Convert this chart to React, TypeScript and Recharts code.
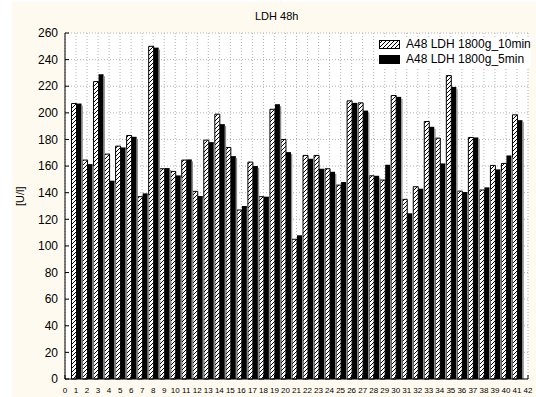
import React from 'react';
import {BarChart, Bar, XAxis, YAxis, CartesianGrid} from 'recharts';

// sample numbers 1..41
const samples = [1, 2, 3, 4, 5, 6, 7, 8, 9, 10, 11, 12, 13, 14, 15, 16, 17, 18, 19, 20,
    21, 22, 23, 24, 25, 26, 27, 28, 29, 30, 31, 32, 33, 34, 35, 36, 37, 38, 39, 40, 41];

const ldh10min = [207, 164.5, 223.5, 169, 175, 183, 137, 250, 158, 156, 164.5, 141, 179.5, 199,
    174, 127, 163, 137, 202.7, 180, 105, 168, 168, 158, 145.7, 209, 207.5, 152.7, 149.5, 213,
    135, 144.5, 193.5, 181, 228, 141.2, 181.5, 142, 160.5, 162, 198.5];

const ldh5min = [207, 161.5, 229, 149, 174, 182, 139.5, 249, 158.5, 153, 165, 137.5, 178, 191.5,
    167.5, 130, 160, 137, 206.5, 170.5, 108, 165.5, 158, 155.7, 148, 207.5, 201.7, 152.7, 161, 212,
    124.5, 143, 189.5, 162, 219.5, 140.5, 181.5, 144, 157.5, 168, 194.5];

const xTicks = [0, 1, 2, 3, 4, 5, 6, 7, 8, 9, 10, 11, 12, 13, 14, 15, 16, 17, 18, 19, 20, 21,
    22, 23, 24, 25, 26, 27, 28, 29, 30, 31, 32, 33, 34, 35, 36, 37, 38, 39, 40, 41, 42];
const yTicks = [0, 20, 40, 60, 80, 100, 120, 140, 160, 180, 200, 220, 240, 260];

const seriesNames = ['A48 LDH 1800g_10min', 'A48 LDH 1800g_5min'];

const data = samples.map((s, i) => ({x: s, a: ldh10min[i], b: ldh5min[i]}));

const font = '"Liberation Sans", Arial, sans-serif';

const HatchDef = ({id}) => (
    <pattern id={id} patternUnits="userSpaceOnUse" width="4" height="4">
        <rect width="4" height="4" fill="#fff" />
        <path d="M-1,1 l2,-2 M0,4 l4,-4 M3,5 l2,-2" stroke="#000" strokeWidth="1" />
    </pattern>
);

const BlackBar = (props) => {
    const {x, y, width, height} = props;
    return (
        <g>
            <rect x={x} y={y} width={width} height={height} fill="#000" />
            <rect x={x + width} y={y + 2} width={1.3} height={Math.max(height - 2, 0)} fill="#8a8a8a" />
        </g>
    );
};

const LegendBox = () => (
    <div style={{fontFamily: font, fontSize: 12, lineHeight: '15px', color: '#000'}}>
        {seriesNames.map((name, i) => (
            <div key={name} style={{display: 'flex', alignItems: 'center', height: 15}}>
                <svg width={21} height={9} style={{marginRight: 6}}>
                    <defs><HatchDef id="hatchLeg" /></defs>
                    <rect x={0.5} y={0.5} width={20} height={8}
                          fill={i === 0 ? 'url(#hatchLeg)' : '#000'} stroke="#000" />
                </svg>
                <span>{name}</span>
            </div>
        ))}
    </div>
);

const App = () => {
    return (
        <div style={{position: 'absolute', left: 0, top: 0, width: 536, height: 397, background: '#fff'}}>
            <div style={{position: 'absolute', left: 12, top: 2, right: 0, bottom: 0, background: '#fefaef'}} />
            <div style={{position: 'absolute', left: 255, top: 10, fontFamily: font, fontSize: 11}}>LDH 48h</div>
            <div style={{position: 'absolute', left: 0, top: 0}}>
                <BarChart width={536} height={397} data={data} barGap={0} barSize={5}
                          margin={{top: 33, right: 8, bottom: 0, left: 0}}>
                    <defs><HatchDef id="hatch" /></defs>
                    <CartesianGrid fill="#fff" stroke="#b4b4b4" strokeDasharray="1 2"
                                   xAxisId="bottom" yAxisId="left" />
                    <XAxis xAxisId="bottom" dataKey="x" type="number" domain={[0, 42]} ticks={xTicks}
                           interval={0} height={18} tickSize={-4} tickMargin={12}
                           axisLine={{stroke: '#000'}} tickLine={{stroke: '#000'}}
                           tick={{fill: '#000', fontSize: 8, fontFamily: font}} />
                    <XAxis xAxisId="top" orientation="top" type="number" domain={[0, 42]} ticks={xTicks}
                           interval={0} height={0} tickSize={-4} tick={false}
                           axisLine={{stroke: '#000'}} tickLine={{stroke: '#000'}} />
                    <YAxis yAxisId="left" type="number" domain={[0, 260]} ticks={yTicks} interval={0}
                           width={65} tickSize={-4} tickMargin={11}
                           axisLine={{stroke: '#000'}} tickLine={{stroke: '#000'}}
                           tick={{fill: '#000', fontSize: 12, fontFamily: font}}
                           label={{value: '[U/l]', angle: -90, position: 'insideLeft', offset: 20,
                               style: {fontSize: 11, fontFamily: font, fill: '#000'}}} />
                    <YAxis yAxisId="right" orientation="right" type="number" domain={[0, 260]} ticks={yTicks}
                           interval={0} width={0} tickSize={-4} tick={false}
                           axisLine={{stroke: '#000'}} tickLine={{stroke: '#000'}} />
                    <Bar dataKey="a" name={seriesNames[0]} xAxisId="bottom" yAxisId="left"
                         fill="url(#hatch)" stroke="#000" strokeWidth={1} isAnimationActive={false} />
                    <Bar dataKey="b" name={seriesNames[1]} xAxisId="bottom" yAxisId="left"
                         shape={<BlackBar />} isAnimationActive={false} />
                </BarChart>
            </div>
            <div style={{position: 'absolute', left: 379, top: 37, background: '#fff'}}>
                <LegendBox />
            </div>
        </div>
    );
};

export default App;
